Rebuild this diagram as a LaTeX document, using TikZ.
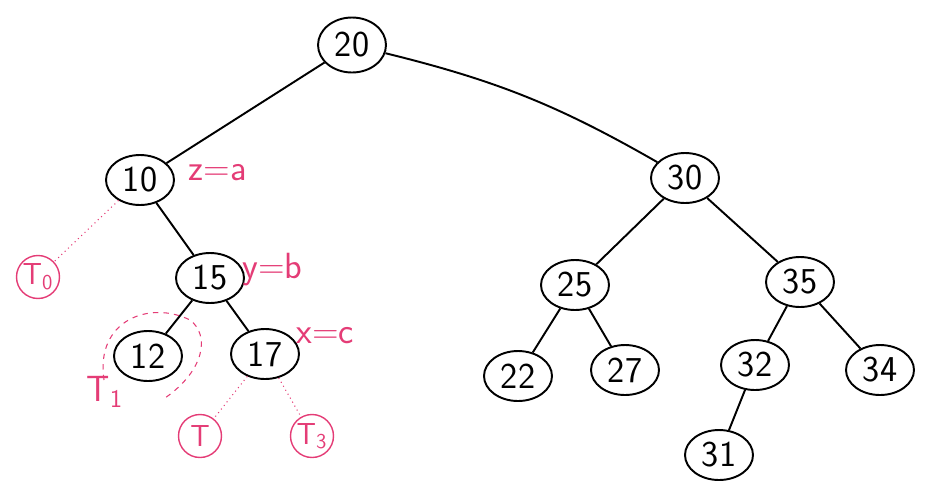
\documentclass[tikz,border=0pt]{standalone}
\usepackage{tikz}
\usetikzlibrary{positioning, shapes.geometric}
\definecolor{pinkink}{RGB}{228,60,118}

\begin{document}
\begin{tikzpicture}[x=0.02cm, y=-0.02cm, auto,
  thick,main node/.style={ellipse,draw,line width=1.1pt,minimum width=1.36cm,minimum height=1cm,inner sep=0pt,font=\sffamily\huge},
  sub node/.style={circle,draw=pinkink,text=pinkink,line width=0.8pt,minimum size=0.86cm,inner sep=0pt,font=\sffamily\LARGE},
  tag/.style={text=pinkink,font=\sffamily\huge,anchor=west}]
\useasboundingbox (0,0) rectangle (929,484);

\node[main node,minimum height=1.1cm] (20) at (352,45) {20};
\node[main node] (10) at (140,180) {10};
\node[main node] (30) at (685,178) {30};
\node[main node] (15) at (210,278) {15};
\node[main node] (12) at (148,356) {12};
\node[main node] (17) at (265,354) {17};
\node[main node] (25) at (575,285) {25};
\node[main node] (35) at (800,282) {35};
\node[main node] (22) at (518,376) {22};
\node[main node] (27) at (625,370) {27};
\node[main node] (32) at (755,365) {32};
\node[main node] (34) at (880,370) {34};
\node[main node] (31) at (719,455) {31};

\node[sub node] (T0) at (38,277) {T\textsubscript{0}};
\node[sub node] (T2) at (200,436) {T};
\node[sub node] (T3) at (312,436) {T\textsubscript{3}};

\node[tag] (z) at (182,173) {z=a};
\node[tag] (y) at (236,270) {y=b};
\node[tag] (x) at (290,336) {x=c};
\node[tag] (T1) at (80,392) {T\textsubscript{1}};

\path[line width=1.1pt]
(20) edge (10)
(20) edge[bend left=8] (30)
(10) edge (15)
(15) edge (12)
(15) edge (17)
(30) edge (25)
(30) edge (35)
(25) edge (22)
(25) edge (27)
(35) edge (32)
(35) edge (34)
(32) edge (31)
;

\path[pinkink, line width=0.6pt, dotted]
(10) edge (T0)
(17) edge (T2)
(17) edge (T3)
;

% dashed outline round the subtree of 12
\draw[pinkink, line width=0.6pt, dashed] (104,380) .. controls (95,320) and (150,300) .. (190,320) .. controls (210,335) and (205,370) .. (165,398);

\end{tikzpicture}
\end{document}
